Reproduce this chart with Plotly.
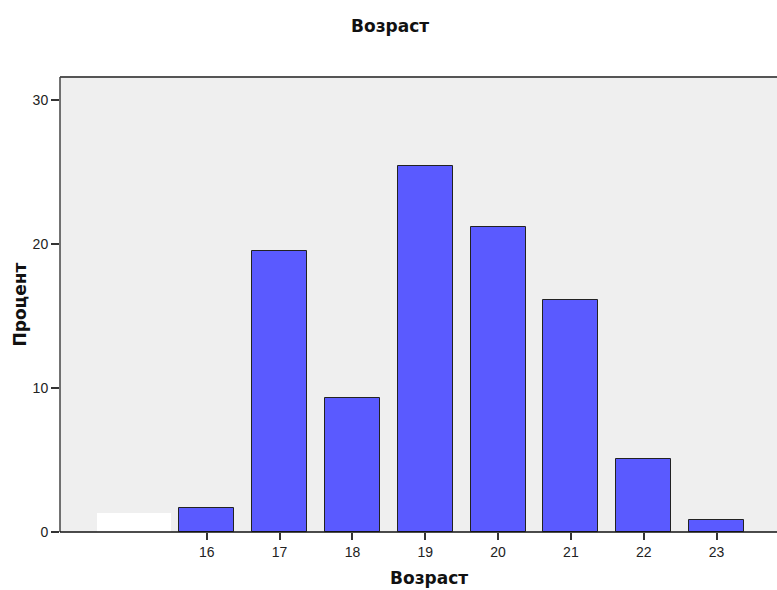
import plotly.graph_objects as go

categories = ["", "16", "17", "18", "19", "20", "21", "22", "23"]
percent = [1.35, 1.7, 19.5, 9.3, 25.4, 21.2, 16.1, 5.1, 0.85]
y_ticks = [0, 10, 20, 30]

xpos = list(range(len(categories)))

W, H = 777, 590
L, R, T, B = 60, 0, 77, 58
PW, PH = W - L - R, H - T - B

fig = go.Figure()
# missing-value bar (white, wider, no outline)
fig.add_trace(go.Bar(x=[xpos[0]], y=[percent[0]], width=1.02,
                     marker=dict(color="white", line=dict(width=0)),
                     hoverinfo="skip"))
fig.add_trace(go.Bar(x=xpos[1:], y=percent[1:], width=0.755,
                     marker=dict(color="#5A5AFF", line=dict(color="#222222", width=1))))

title_font = dict(family="DejaVu Sans, Arial, sans-serif", size=17, color="#111")

fig.update_layout(
    width=W, height=H,
    margin=dict(l=L, r=R, t=T, b=B),
    paper_bgcolor="white", plot_bgcolor="#EFEFEF",
    showlegend=False, bargap=0,
    font=dict(family="Liberation Sans, Arial, sans-serif", color="#222222", size=14),
    xaxis=dict(range=[-1.015, 8.83], tickmode="array", tickvals=xpos[1:],
               ticktext=categories[1:], ticks="outside", ticklen=7, tickcolor="#333",
               tickwidth=1.5, showgrid=False, zeroline=False, showline=False,
               fixedrange=True),
    yaxis=dict(range=[0, 31.6], tickvals=y_ticks, ticks="outside", ticklen=8,
               tickcolor="#333", tickwidth=1.5, showgrid=False, zeroline=False,
               showline=False),
    annotations=[
        dict(text="<b>Возраст</b>", x=(390 - L) / PW, xref="paper",
             y=1 + (T - 26) / PH, yref="paper", yanchor="middle",
             showarrow=False, font=title_font),
        dict(text="<b>Возраст</b>", x=(429 - L) / PW, xref="paper", y=-(578 - (T + PH)) / PH,
             yref="paper", showarrow=False, font=title_font, yanchor="middle"),
        dict(text="<b>Процент</b>", x=-(L - 19) / PW, xref="paper", y=0.5, yref="paper",
             textangle=-90, showarrow=False, font=title_font,
             xanchor="center"),
    ],
    shapes=[
        dict(type="line", xref="paper", yref="paper", x0=0, x1=1, y0=1, y1=1,
             line=dict(color="#555", width=2), layer="above"),
        dict(type="line", xref="paper", yref="paper", x0=0, x1=0, y0=0, y1=1,
             line=dict(color="#444", width=1.5), layer="above"),
        dict(type="line", xref="paper", yref="paper", x0=0, x1=1, y0=0, y1=0,
             line=dict(color="#111", width=1.5), layer="above"),
    ],
)

fig.write_html("out.html", config={"displayModeBar": False},
               post_script="document.body.style.margin='0';document.body.style.overflow='hidden';")
